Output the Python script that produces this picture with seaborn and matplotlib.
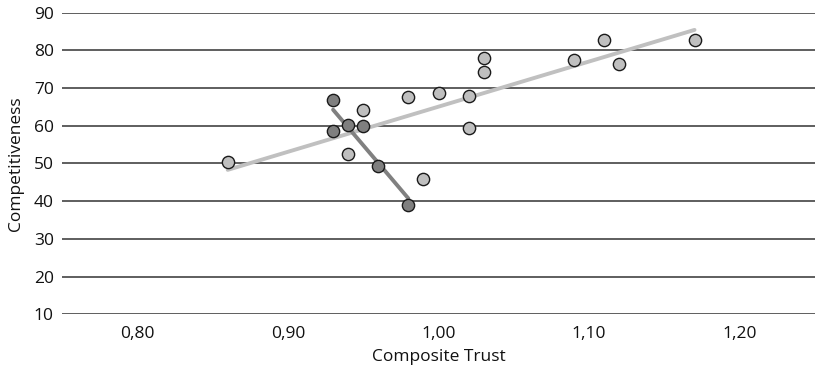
import pandas as pd
import matplotlib
matplotlib.use("Agg")
import matplotlib.pyplot as plt
import seaborn as sns

# light series (all countries) and dark series (subgroup)
light_trust = [0.86, 0.94, 0.95, 0.98, 0.99, 1.00, 1.02, 1.02, 1.03, 1.03, 1.09, 1.11, 1.12, 1.17]
light_comp = [50.3, 52.4, 64.3, 67.6, 45.8, 68.6, 67.9, 59.5, 74.4, 77.9, 77.5, 82.8, 76.5, 82.7]

dark_trust = [0.93, 0.93, 0.94, 0.95, 0.96, 0.98]
dark_comp = [66.8, 58.6, 60.1, 59.9, 49.3, 39.1]

x_ticks = [0.80, 0.90, 1.00, 1.10, 1.20]
x_labels = ["0,80", "0,90", "1,00", "1,10", "1,20"]
y_ticks = [10, 20, 30, 40, 50, 60, 70, 80, 90]

light = pd.DataFrame({"trust": light_trust, "comp": light_comp})
dark = pd.DataFrame({"trust": dark_trust, "comp": dark_comp})

sns.set_style("white")
plt.rcParams["font.family"] = ["Open Sans", "DejaVu Sans"]

fig = plt.figure(figsize=(8.15, 3.67), dpi=100)
ax = fig.add_axes([0.0761, 0.1436, 0.9239, 0.8218])

# horizontal gridlines, the one at 10 doubles as the x axis line
for y in y_ticks:
    ax.axhline(y, color="#333333", linewidth=1.1, zorder=0)

# trend lines (linear fits over each series' own range)
sns.regplot(data=light, x="trust", y="comp", ci=None, scatter=False, truncate=True,
            line_kws={"color": "#c0c0c0", "linewidth": 2.8, "zorder": 1}, ax=ax)
sns.regplot(data=dark, x="trust", y="comp", ci=None, scatter=False, truncate=True,
            line_kws={"color": "#808080", "linewidth": 2.8, "zorder": 1}, ax=ax)

sns.scatterplot(data=light, x="trust", y="comp", color="#bfbfbf", edgecolor="#1a1a1a",
                linewidth=1, s=78, zorder=3, ax=ax)
sns.scatterplot(data=dark, x="trust", y="comp", color="#7f7f7f", edgecolor="#1a1a1a",
                linewidth=1, s=78, zorder=3, ax=ax)

ax.set_xlim(0.75, 1.25)
ax.set_ylim(10, 90)
ax.set_xticks(x_ticks)
ax.set_xticklabels(x_labels)
ax.set_yticks(y_ticks)
ax.tick_params(length=0, labelsize=12.5, colors="#111111")
ax.tick_params(axis="x", pad=8.5)
ax.tick_params(axis="y", pad=6)
for s in ax.spines.values():
    s.set_visible(False)
ax.set_xlabel("Composite Trust", fontsize=12.5, labelpad=5, color="#111111")
ax.set_ylabel("Competitiveness", fontsize=12.5, labelpad=7, color="#111111")

fig.savefig("out.png", dpi=100)
